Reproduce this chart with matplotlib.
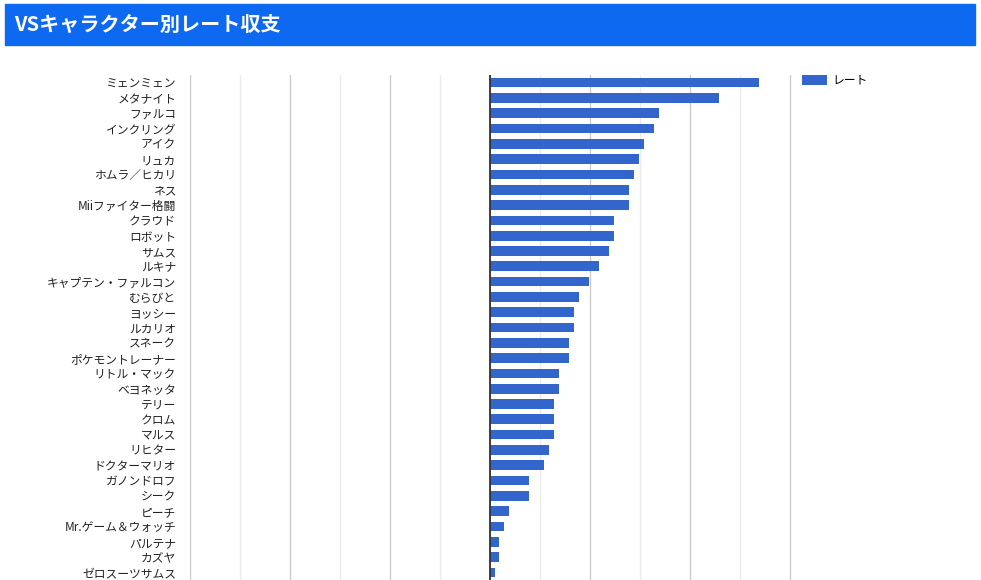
import matplotlib
matplotlib.use('Agg')
import matplotlib.pyplot as plt
from matplotlib.patches import Rectangle

plt.rcParams['font.family'] = ['Noto Sans CJK JP', 'DejaVu Sans']

TITLE = 'VSキャラクター別レート収支'
SERIES_NAME = 'レート'

characters = [
    'ミェンミェン', 'メタナイト', 'ファルコ', 'インクリング', 'アイク',
    'リュカ', 'ホムラ／ヒカリ', 'ネス', 'Miiファイター格闘', 'クラウド',
    'ロボット', 'サムス', 'ルキナ', 'キャプテン・ファルコン', 'むらびと',
    'ヨッシー', 'ルカリオ', 'スネーク', 'ポケモントレーナー', 'リトル・マック',
    'ベヨネッタ', 'テリー', 'クロム', 'マルス', 'リヒター',
    'ドクターマリオ', 'ガノンドロフ', 'シーク', 'ピーチ', 'Mr.ゲーム＆ウォッチ',
    'パルテナ', 'カズヤ', 'ゼロスーツサムス',
]
rates = [
    269, 229, 169, 164, 154,
    149, 144, 139, 139, 124,
    124, 119, 109, 99, 89,
    84, 84, 79, 79, 69,
    69, 64, 64, 64, 59,
    54, 39, 39, 19, 14,
    9, 9, 5,
]

W, H = 981, 580
fig = plt.figure(figsize=(W / 100, H / 100), dpi=100)

# header band
fig.patches.append(Rectangle((5 / W, 1 - 45 / H), 970 / W, 41 / H,
                             transform=fig.transFigure, color='#0d69f0',
                             zorder=0))
fig.text(14 / W, 1 - 24 / H, TITLE, color='white', fontsize=14.5,
         fontweight='bold', va='center', ha='left')

ax = fig.add_axes([190 / W, 0, 602 / W, 505 / H])
y = list(range(len(characters)))
ax.barh(y, rates, height=0.63, color='#3366cc', label=SERIES_NAME, zorder=3)

ax.set_xlim(-300, 302)
ax.set_ylim(len(characters) - 0.5, -0.5)
ax.set_yticks(y)
ax.set_yticklabels(characters, fontsize=8.5, color='#222222')
ax.set_xticks(range(-300, 301, 100))
ax.set_xticks(range(-250, 300, 100), minor=True)
ax.grid(which='major', axis='x', color='#cccccc', lw=1)
ax.grid(which='minor', axis='x', color='#ebebeb', lw=1)
ax.tick_params(axis='x', which='both', length=0, labelbottom=False)
ax.tick_params(axis='y', length=0, pad=10)
ax.axvline(0, color='#333333', lw=1.3, zorder=4)
for s in ax.spines.values():
    s.set_visible(False)

ax.legend(loc='upper left', bbox_to_anchor=(802 / W, 1 - 74 / H),
          bbox_transform=fig.transFigure, frameon=False, fontsize=8.5,
          handlelength=2.1, handleheight=1.0, handletextpad=0.45,
          borderpad=0, borderaxespad=0)

fig.savefig('out.png', dpi=100)
